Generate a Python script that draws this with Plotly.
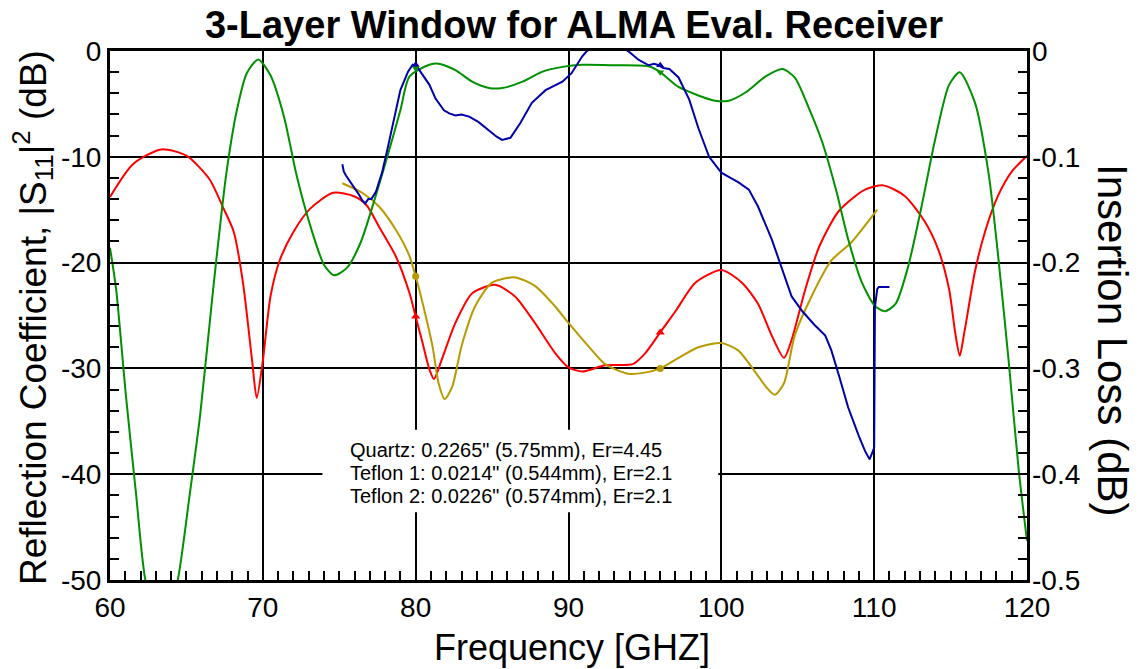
import plotly.graph_objects as go

# ---------------- data ----------------
freq_red = [60.0, 61.5, 63.35, 65.0, 66.5, 67.4, 68.1, 68.7, 69.3, 69.6, 70.0, 70.5, 71.1, 72.0,
            73.1, 74.6, 76.0, 76.8, 77.6, 78.7, 79.6, 80.0, 80.4, 80.9, 81.2, 81.7, 82.6, 83.7,
            85.2, 86.5, 87.8, 89.1, 90.0, 90.9, 92.4, 94.2, 95.0, 96.0, 97.0, 98.3, 100.0,
            101.35, 102.4, 103.3, 104.1, 104.6, 105.5, 106.4, 107.7, 109.4, 110.6, 112.0,
            113.3, 114.2, 114.9, 115.3, 115.6, 115.9, 116.6, 117.25, 118.1, 119.0, 120.0]
refl_red = [-13.8, -10.7, -9.3, -9.9, -12.1, -14.8, -17.1, -21.9, -29.3, -32.8, -29.3, -23.2,
            -19.8, -17.1, -14.9, -13.4, -13.75, -14.6, -16.6, -19.4, -22.9, -25.1, -27.3, -30.1,
            -31.0, -29.2, -25.7, -22.9, -22.1, -23.2, -25.7, -28.5, -29.9, -30.3, -29.7, -29.6,
            -28.6, -26.6, -24.6, -21.9, -20.7, -21.9, -23.9, -26.9, -29.0, -27.3, -22.5, -18.5,
            -15.1, -13.1, -12.7, -13.7, -16.1, -18.8, -22.5, -26.6, -28.8, -26.6, -20.8, -17.1,
            -13.7, -11.4, -9.9]

freq_olive = [75.2, 76.5, 77.6, 78.7, 79.6, 80.0, 80.5, 81.1, 81.5, 81.9, 82.4, 83.0, 83.9, 85.0,
              86.5, 87.8, 89.1, 90.0, 91.3, 92.4, 93.9, 95.0, 96.0, 97.2, 98.5, 100.0, 101.1,
              102.2, 102.9, 103.5, 104.1, 104.8, 105.9, 107.2, 108.5, 110.2]
refl_olive = [-12.5, -13.4, -14.7, -16.9, -19.4, -21.3, -24.1, -27.9, -31.4, -32.9, -31.7, -27.9,
              -24.1, -21.9, -21.4, -22.2, -24.1, -25.7, -27.9, -29.6, -30.5, -30.4, -30.0, -29.0,
              -28.0, -27.6, -28.3, -30.3, -31.7, -32.5, -31.4, -26.9, -23.2, -19.8, -18.1, -15.0]

freq_green = [60.0, 60.4, 61.05, 61.7, 62.3, 63.4, 64.45, 65.2, 65.9, 66.75, 67.6, 68.3, 68.95,
              69.7, 70.5, 71.4, 72.2, 73.1, 74.0, 74.65, 75.5, 76.4, 77.3, 78.2, 79.0, 79.6,
              80.9, 81.5, 82.6, 83.7, 84.8, 85.65, 87.0, 88.3, 89.6, 90.9, 93.1, 95.25, 96.0,
              97.2, 98.5, 99.6, 100.5, 101.6, 102.9, 104.0, 104.8, 105.7, 106.6, 107.5, 108.3,
              109.2, 110.05, 110.7, 111.4, 112.2, 113.1, 114.0, 114.9, 115.6, 116.6, 117.5,
              118.1, 118.8, 119.45, 120.0]
loss_green = [-0.186, -0.225, -0.327, -0.418, -0.499, -0.56, -0.499, -0.421, -0.344, -0.225,
              -0.117, -0.056, -0.021, -0.008, -0.023, -0.063, -0.117, -0.165, -0.202, -0.212,
              -0.205, -0.181, -0.141, -0.097, -0.056, -0.024, -0.013, -0.012, -0.018, -0.029,
              -0.035, -0.035, -0.029, -0.0195, -0.015, -0.013, -0.0135, -0.0145, -0.020, -0.034,
              -0.042, -0.047, -0.047, -0.039, -0.024, -0.017, -0.025, -0.053, -0.086, -0.131,
              -0.178, -0.219, -0.241, -0.246, -0.239, -0.205, -0.147, -0.083, -0.032, -0.020,
              -0.049, -0.117, -0.192, -0.293, -0.395, -0.463]

freq_blue = [75.2, 75.3, 75.45, 75.65, 75.9, 76.1, 76.3, 76.5, 76.7, 76.9, 77.1, 77.4, 77.8,
             78.15, 78.6, 79.0, 79.5, 79.8, 80.1, 80.4, 80.9, 81.3, 81.85, 82.2, 82.6, 83.0,
             83.5, 84.1, 84.8, 85.3, 85.65, 86.2, 86.85, 87.6, 88.5, 89.6, 90.2, 90.9, 91.2,
             92.5, 93.9, 94.6, 95.25, 95.6, 95.9, 96.2, 96.6, 97.2, 97.9, 98.5, 99.2, 100.0,
             100.6, 101.1, 101.8, 102.4, 103.3, 104.0, 104.6, 105.3, 106.1, 106.8, 107.2,
             107.7, 108.3, 109.0, 109.4, 109.7, 110.0, 110.05, 110.2, 110.3, 111.0]
loss_blue = [-0.107, -0.114, -0.118, -0.122, -0.128, -0.131, -0.136, -0.141, -0.144, -0.140,
             -0.140, -0.133, -0.115, -0.093, -0.062, -0.037, -0.0195, -0.013, -0.015, -0.021,
             -0.032, -0.045, -0.056, -0.059, -0.061, -0.060, -0.062, -0.067, -0.075, -0.081,
             -0.084, -0.082, -0.068, -0.049, -0.037, -0.029, -0.021, -0.005, 0.0, 0.01, 0.0,
             -0.0085, -0.0135, -0.012, -0.0135, -0.016, -0.017, -0.025, -0.046, -0.073, -0.100,
             -0.115, -0.120, -0.124, -0.131, -0.147, -0.178, -0.208, -0.232, -0.246, -0.259,
             -0.269, -0.283, -0.307, -0.337, -0.364, -0.378, -0.386, -0.375, -0.242, -0.225,
             -0.223, -0.223]

mark_x = [80.0, 96.0]
mark_red = [-25.1, -26.6]
mark_olive = [-21.3, -30.0]
mark_green = [-0.016, -0.020]
mark_blue = [-0.013, -0.0135]

x_ticks = [60, 70, 80, 90, 100, 110, 120]
y_ticks = [0, -10, -20, -30, -40, -50]
y2_ticks = [0, -0.1, -0.2, -0.3, -0.4, -0.5]
y2_labels = ["0", "-0.1", "-0.2", "-0.3", "-0.4", "-0.5"]

note_lines = ['Quartz: 0.2265" (5.75mm), Er=4.45',
              'Teflon 1: 0.0214" (0.544mm), Er=2.1',
              'Teflon 2: 0.0226" (0.574mm), Er=2.1']

RED = "#ff0000"
OLIVE = "#b89a00"
GREEN = "#009000"
BLUE = "#0000a8"
FONT = "Arial, Liberation Sans"

# the page's body margin is removed (post_script), so the figure fills the window
W, H = 1141, 669
L, R, T, B = 110, 114, 51, 89
PW, PH = W - L - R, H - T - B

fig = go.Figure()
fig.add_trace(go.Scatter(x=freq_green, y=loss_green, mode="lines", yaxis="y2",
                         line=dict(color=GREEN, width=2, shape="spline", smoothing=0.7)))
fig.add_trace(go.Scatter(x=freq_blue, y=loss_blue, mode="lines", yaxis="y2",
                         line=dict(color=BLUE, width=2)))
fig.add_trace(go.Scatter(x=freq_red, y=refl_red, mode="lines",
                         line=dict(color=RED, width=2, shape="spline", smoothing=0.7)))
fig.add_trace(go.Scatter(x=freq_olive, y=refl_olive, mode="lines",
                         line=dict(color=OLIVE, width=2, shape="spline", smoothing=0.7)))
fig.add_trace(go.Scatter(x=mark_x, y=mark_red, mode="markers",
                         marker=dict(symbol="triangle-up", size=8, color=RED)))
fig.add_trace(go.Scatter(x=mark_x, y=mark_olive, mode="markers",
                         marker=dict(symbol="circle", size=7, color=OLIVE)))
fig.add_trace(go.Scatter(x=mark_x, y=mark_green, mode="markers", yaxis="y2",
                         marker=dict(symbol="triangle-down", size=7, color=GREEN)))
fig.add_trace(go.Scatter(x=mark_x, y=mark_blue, mode="markers", yaxis="y2",
                         marker=dict(symbol="triangle-up", size=7, color=BLUE)))

# white box behind the note (covers gridlines, below traces)
fig.add_shape(type="rect", xref="x", yref="y", x0=73.9, x1=99.8, y0=-43.6, y1=-35.8,
              fillcolor="white", line=dict(width=0), layer="between")

TICKFONT = dict(family=FONT, size=28, color="black")

fig.update_layout(
    width=W, height=H,
    margin=dict(l=L, r=R, t=T, b=B),
    paper_bgcolor="white", plot_bgcolor="white",
    showlegend=False,
    font=dict(family=FONT, color="black"),
    title=dict(text="<b>3-Layer Window for ALMA Eval. Receiver</b>",
               font=dict(size=38, family=FONT, color="black"),
               x=574 / W, xanchor="center", y=1 - 25 / H, yanchor="middle"),
    xaxis=dict(range=[60, 120], tickvals=x_ticks, ticktext=[str(v) for v in x_ticks],
               showgrid=True, gridcolor="black", gridwidth=2,
               showline=True, linecolor="black", linewidth=3, mirror=True,
               ticks="inside", ticklen=9, tickwidth=1.5, tickcolor="black",
               minor=dict(dtick=1, ticks="inside", ticklen=9, tickwidth=1.5,
                          tickcolor="black", showgrid=False),
               tickfont=TICKFONT, zeroline=False),
    yaxis=dict(range=[-50, 0], tickvals=y_ticks, ticktext=[str(v) for v in y_ticks],
               showgrid=True, gridcolor="black", gridwidth=2,
               showline=True, linecolor="black", linewidth=3, mirror=True,
               ticks="inside", ticklen=9, tickwidth=1.5, tickcolor="black",
               minor=dict(dtick=2, ticks="inside", ticklen=9, tickwidth=1.5,
                          tickcolor="black", showgrid=False),
               tickfont=TICKFONT, zeroline=False),
    yaxis2=dict(range=[-0.5, 0], overlaying="y", side="right",
                tickvals=y2_ticks, ticktext=y2_labels, showgrid=False,
                ticks="inside", ticklen=9, tickwidth=1.5, tickcolor="black",
                minor=dict(dtick=0.02, ticks="inside", ticklen=9, tickwidth=1.5,
                           tickcolor="black", showgrid=False),
                tickfont=TICKFONT, zeroline=False, showline=False,
                ticklabelstandoff=4),
)

fig.add_annotation(text="Frequency [GHZ]", xref="paper", yref="paper",
                   x=(572 - 110) / PW, y=-(647 - 580) / PH,
                   xanchor="center", yanchor="middle", showarrow=False,
                   font=dict(size=36, family=FONT, color="black"))
fig.add_annotation(text="Reflection Coefficient, |S<sub>11</sub>|<sup>2</sup> (dB)",
                   xref="paper", yref="paper", x=(33 - 110) / PW, y=(580 - 318) / PH,
                   textangle=-90, xanchor="center", yanchor="middle", showarrow=False,
                   font=dict(size=37, family=FONT, color="black"))
fig.add_annotation(text="Insertion Loss (dB)", xref="paper", yref="paper",
                   x=(1113 - 110) / PW, y=(580 - 340) / PH,
                   textangle=90, xanchor="center", yanchor="middle", showarrow=False,
                   font=dict(size=42, family=FONT, color="black"))
note_y = [-37.7, -39.9, -42.1]
for line, yv in zip(note_lines, note_y):
    fig.add_annotation(text=line, xref="x", yref="y", x=75.55, y=yv,
                       xanchor="left", yanchor="middle", align="left", showarrow=False,
                       font=dict(size=20, family=FONT, color="black"))

fig.write_html("out.html",
               config={"displayModeBar": False},
               post_script="document.body.style.margin='0px';"
                           "document.body.style.padding='0px';")
